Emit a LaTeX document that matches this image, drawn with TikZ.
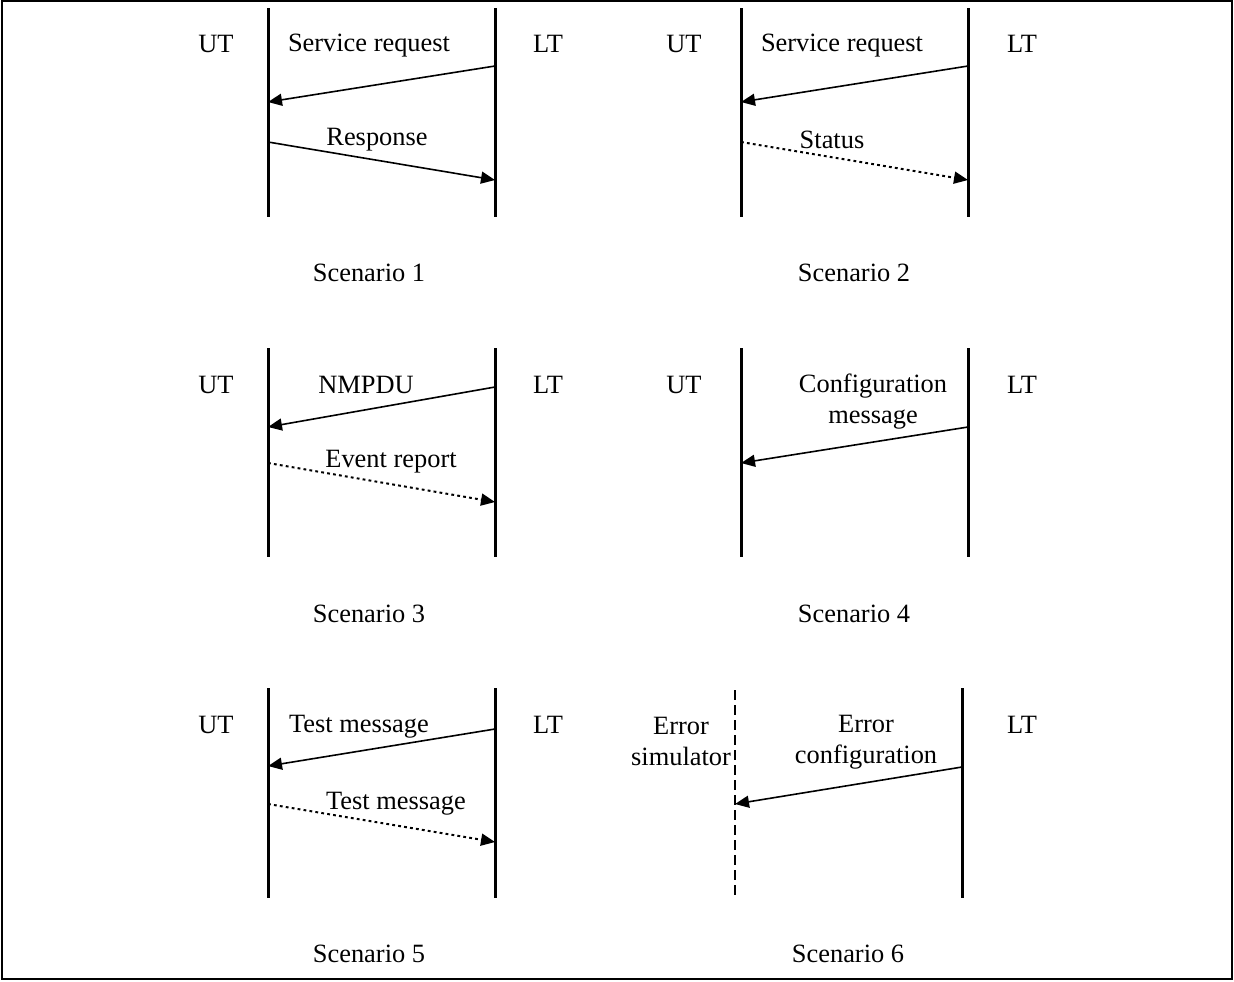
\documentclass[tikz,border=0pt]{standalone}
\usepackage{fontspec}
\setmainfont{Liberation Serif}
\usetikzlibrary{arrows.meta}

\tikzset{
  life/.style={black,line width=1.5pt},
  errlife/.style={black,line width=1pt,dash pattern=on 5pt off 2.5pt},
  msg/.style={black,line width=0.8pt,-{Triangle[length=7pt,width=6pt]}},
  notemsg/.style={msg,line width=1pt,dash pattern=on 1.4pt off 1.6pt},
  lbl/.style={inner sep=0pt,align=center,font=\fontsize{13.2}{15.5}\selectfont},
}

\begin{document}
\begin{tikzpicture}[x=0.5pt,y=-0.5pt]
\useasboundingbox (0,0) rectangle (1234,981);
\draw[black,line width=1.3pt] (2,1) rectangle (1232,979);

% scenario 1
\coordinate (ut1t) at (268,8);   \coordinate (ut1b) at (268,217);
\coordinate (lt1t) at (495,8);   \coordinate (lt1b) at (495,217);
\draw[life] (ut1t) -- (ut1b);
\draw[life] (lt1t) -- (lt1b);
\node[lbl] (ut1) at (216,44) {UT};
\node[lbl] (lt1) at (548,44) {LT};
\coordinate (req1s) at (495,66);  \coordinate (req1e) at (268,102);
\coordinate (rsp1s) at (268,142); \coordinate (rsp1e) at (495,180);
\draw[msg] (req1s) -- (req1e);
\draw[msg] (rsp1s) -- (rsp1e);
\node[lbl] (req1) at (369,46) {Service request};
\node[lbl] (rsp1) at (377,140) {Response};
\node[lbl] (sc1) at (369,273) {Scenario 1};

% scenario 2
\coordinate (ut2t) at (741,8);   \coordinate (ut2b) at (741,217);
\coordinate (lt2t) at (968,8);   \coordinate (lt2b) at (968,217);
\draw[life] (ut2t) -- (ut2b);
\draw[life] (lt2t) -- (lt2b);
\node[lbl] (ut2) at (684,44) {UT};
\node[lbl] (lt2) at (1022,44) {LT};
\coordinate (req2s) at (968,66);  \coordinate (req2e) at (741,102);
\coordinate (sta2s) at (741,142); \coordinate (sta2e) at (968,180);
\draw[msg] (req2s) -- (req2e);
\draw[notemsg] (sta2s) -- (sta2e);
\node[lbl] (req2) at (842,46) {Service request};
\node[lbl] (sta2) at (832,140) {Status};
\node[lbl] (sc2) at (854,273) {Scenario 2};

% scenario 3
\coordinate (ut3t) at (268,348); \coordinate (ut3b) at (268,557);
\coordinate (lt3t) at (495,348); \coordinate (lt3b) at (495,557);
\draw[life] (ut3t) -- (ut3b);
\draw[life] (lt3t) -- (lt3b);
\node[lbl] (ut3) at (216,385) {UT};
\node[lbl] (lt3) at (548,385) {LT};
\coordinate (pdu3s) at (495,387); \coordinate (pdu3e) at (268,427);
\coordinate (evt3s) at (268,463); \coordinate (evt3e) at (495,502);
\draw[msg] (pdu3s) -- (pdu3e);
\draw[notemsg] (evt3s) -- (evt3e);
\node[lbl] (pdu3) at (366,385) {NMPDU};
\node[lbl] (evt3) at (391,462) {Event report};
\node[lbl] (sc3) at (369,614) {Scenario 3};

% scenario 4
\coordinate (ut4t) at (741,348); \coordinate (ut4b) at (741,557);
\coordinate (lt4t) at (968,348); \coordinate (lt4b) at (968,557);
\draw[life] (ut4t) -- (ut4b);
\draw[life] (lt4t) -- (lt4b);
\node[lbl] (ut4) at (684,385) {UT};
\node[lbl] (lt4) at (1022,385) {LT};
\coordinate (cfg4s) at (968,427); \coordinate (cfg4e) at (741,463);
\draw[msg] (cfg4s) -- (cfg4e);
\node[lbl] (cfg4) at (873,402) {Configuration\\message};
\node[lbl] (sc4) at (854,614) {Scenario 4};

% scenario 5
\coordinate (ut5t) at (268,688); \coordinate (ut5b) at (268,898);
\coordinate (lt5t) at (495,688); \coordinate (lt5b) at (495,898);
\draw[life] (ut5t) -- (ut5b);
\draw[life] (lt5t) -- (lt5b);
\node[lbl] (ut5) at (216,725) {UT};
\node[lbl] (lt5) at (548,725) {LT};
\coordinate (tst5s) at (495,729); \coordinate (tst5e) at (268,766);
\coordinate (tsr5s) at (268,804); \coordinate (tsr5e) at (495,842);
\draw[msg] (tst5s) -- (tst5e);
\draw[notemsg] (tsr5s) -- (tsr5e);
\node[lbl] (tst5) at (359,727) {Test message};
\node[lbl] (tsr5) at (396,804) {Test message};
\node[lbl] (sc5) at (369,954) {Scenario 5};

% scenario 6
\coordinate (es6t) at (735,690); \coordinate (es6b) at (735,898);
\coordinate (lt6t) at (962,688); \coordinate (lt6b) at (962,898);
\draw[errlife] (es6t) -- (es6b);
\draw[life] (lt6t) -- (lt6b);
\node[lbl] (es6) at (681,741) {Error\\simulator};
\node[lbl] (lt6) at (1022,725) {LT};
\coordinate (err6s) at (962,767); \coordinate (err6e) at (735,804);
\draw[msg] (err6s) -- (err6e);
\node[lbl] (err6) at (866,742) {Error\\configuration};
\node[lbl] (sc6) at (848,954) {Scenario 6};
\end{tikzpicture}
\end{document}
